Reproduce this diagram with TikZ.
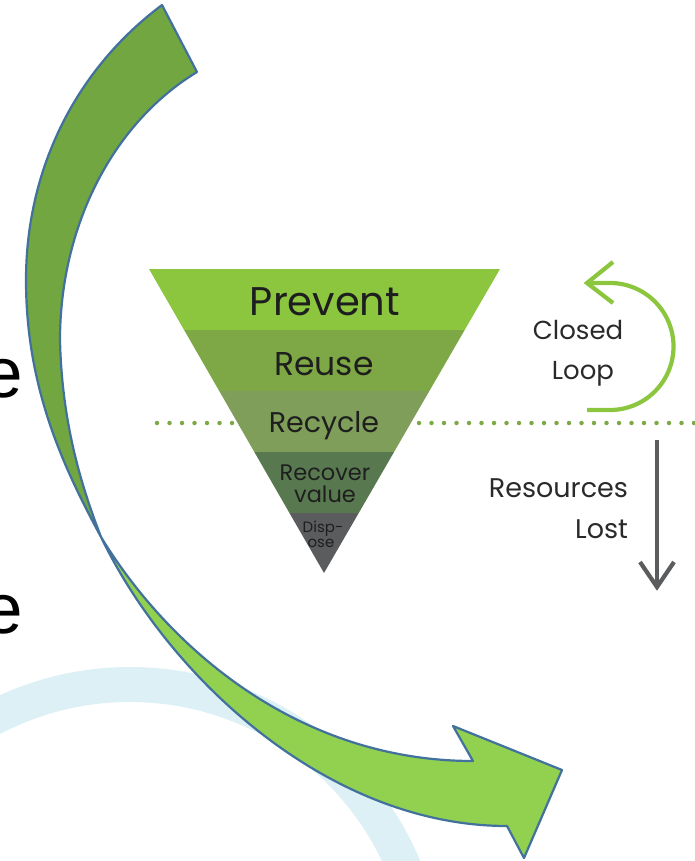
\documentclass[tikz,border=0pt]{standalone}
\usepackage{fontspec}
\setmainfont{Poppins}
\newfontfamily\arialf{Liberation Sans}
\definecolor{cPrevent}{HTML}{8CC63F}
\definecolor{cReuse}{HTML}{7EA845}
\definecolor{cRecycle}{HTML}{7F9E5A}
\definecolor{cRecover}{HTML}{58794F}
\definecolor{cDispose}{HTML}{5B5C5E}
\definecolor{dotgreen}{HTML}{7EA846}
\definecolor{loopgreen}{HTML}{8CC63F}
\definecolor{lostgray}{HTML}{5B5C5E}
\definecolor{arcblue}{HTML}{DDF0F6}
\definecolor{arrowdark}{HTML}{72A640}
\definecolor{arrowlight}{HTML}{92D050}
\definecolor{outlineblue}{HTML}{41719C}
\definecolor{txtdark}{HTML}{1E1E1E}
\definecolor{txtside}{HTML}{2A2A2A}
\tikzset{
  lbl/.style={inner sep=0pt, outer sep=0pt, text=txtdark, anchor=base},
  sidelbl/.style={inner sep=0pt, outer sep=0pt, text=txtside, anchor=base},
  bigarrow/.style={draw=outlineblue, line width=2.2pt, line join=round},
  dotline/.style={dotgreen, line width=4.5pt, line cap=round, dash pattern=on 0pt off 12.5pt},
}
\begin{document}
\begin{tikzpicture}[x=1pt,y=-1pt]
\useasboundingbox (0,0) rectangle (695,861);
% background light blue arc
\draw[arcblue, line width=35pt] (130,981) circle[radius=296.5];
% left cut-off letters
\node[inner sep=0pt, anchor=base east, font=\arialf\fontsize{71}{71}\selectfont] (e1) at (23,397) {e};
\node[inner sep=0pt, anchor=base east, font=\arialf\fontsize{71}{71}\selectfont] (e2) at (23,633) {e};
% dotted line
\draw[dotline] (157,423) -- (232,423);
\draw[dotline] (419,423) -- (695,423);
% inverted pyramid
\begin{scope}
  \clip (149,269) -- (500,269) -- (324,573) -- cycle;
  \fill[cPrevent] (140,260) rectangle (510,330);
  \fill[cReuse] (140,330) rectangle (510,391);
  \fill[cRecycle] (140,391) rectangle (510,452);
  \fill[cRecover] (140,452) rectangle (510,513);
  \fill[cDispose] (140,513) rectangle (510,580);
\end{scope}
\node[lbl, font=\fontsize{40}{40}\selectfont] (prevent) at (325,315) {Prevent};
\node[lbl, font=\fontsize{33}{33}\selectfont] (reuse) at (324,375) {Reuse};
\node[lbl, font=\fontsize{28.5}{28.5}\selectfont] (recycle) at (324,432) {Recycle};
\node[lbl, font=\fontsize{22.5}{22.5}\selectfont] (recover) at (325,480) {Recover};
\node[lbl, font=\fontsize{22.5}{22.5}\selectfont] (value) at (325,502) {value};
\node[lbl, font=\fontsize{15}{15}\selectfont] (disp) at (323,532) {Disp-};
\node[lbl, font=\fontsize{15}{15}\selectfont] (ose) at (321,547) {ose};
% closed loop
\node[sidelbl, font=\fontsize{26}{26}\selectfont] (closed) at (578,339) {Closed};
\node[sidelbl, font=\fontsize{26}{26}\selectfont] (loop) at (583,379) {Loop};
\draw[loopgreen, line width=4.2pt] (587,410) -- (610,410) arc[start angle=90, end angle=-90, radius=63.5] -- (588,283);
\draw[loopgreen, line width=4.2pt, line join=miter] (613,262) -- (587,283) -- (613,303);
% resources lost
\node[sidelbl, anchor=base east, font=\fontsize{27}{27}\selectfont] (resources) at (628,497) {Resources};
\node[sidelbl, anchor=base east, font=\fontsize{27}{27}\selectfont] (lost) at (628,538) {Lost};
\draw[lostgray, line width=4.2pt] (657,440) -- (657,585);
\draw[lostgray, line width=4.2pt, line join=miter] (640,562) -- (657,587) -- (674,562);
% big curved arrow, upper (back side) part
\filldraw[bigarrow, fill=arrowdark]
  (162,5) -- (197,72)
  .. controls (110,125) and (60,230) .. (60,340)
  .. controls (62,430) and (85,495) .. (101,537)
  .. controls (65,470) and (26,390) .. (26,280)
  .. controls (26,170) and (75,70) .. (162,5)
  -- cycle;
% big curved arrow, lower (front side) part
\filldraw[bigarrow, fill=arrowlight]
  (101,537)
  .. controls (170,650) and (300,761) .. (473,761)
  -- (453,726) -- (562,770) -- (524,858) -- (507,826)
  .. controls (330,826) and (170,680) .. (101,537)
  -- cycle;
\end{tikzpicture}
\end{document}
